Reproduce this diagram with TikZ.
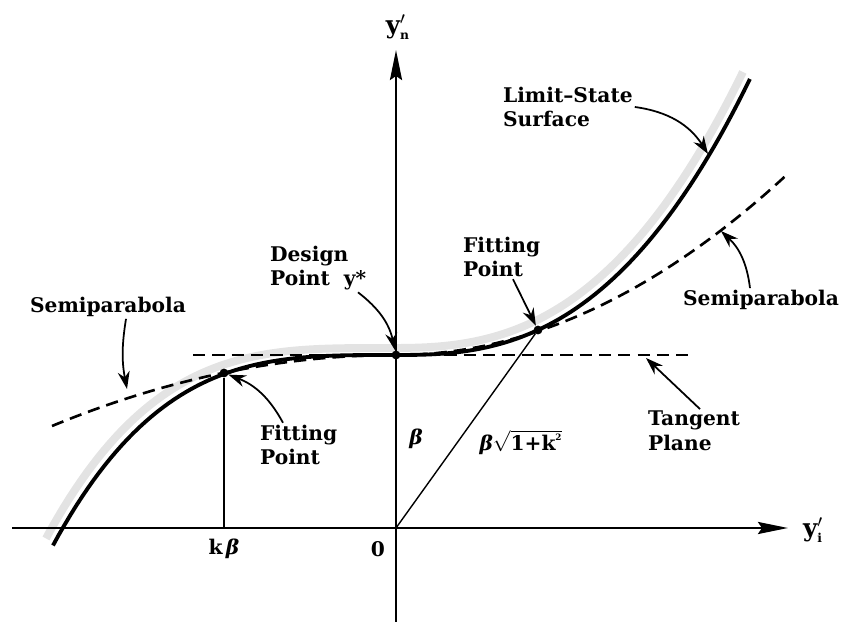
\documentclass[tikz,border=0pt]{standalone}
\usepackage{fontspec}
\setmainfont{DejaVu Serif}
\usetikzlibrary{arrows.meta}
\newcommand{\bbeta}{{\bfseries\itshape β}}
\tikzset{
  assi/.style={line width=1.5pt, -{Stealth[length=6mm,width=2.4mm,inset=0.8mm]}},
  superficie/.style={line width=2.2pt},
  fascia/.style={line width=4.5pt, gray!22},
  tratteggio/.style={line width=1.5pt, dash pattern=on 7pt off 4pt},
  sottile/.style={line width=0.8pt},
  freccia/.style={line width=1pt, -{Stealth[length=3.5mm,width=2.4mm]}},
  etichetta/.style={font=\fontsize{11.5}{14}\selectfont\bfseries, align=left, inner sep=1pt},
  punto/.style={circle, fill, inner sep=0pt, minimum size=5pt},
}
\begin{document}
\begin{tikzpicture}[x=0.02cm, y=-0.02cm]
        % --- macro riutilizzabili -----------------------------------------
        \def\unita{0.02cm}
        \useasboundingbox (0,0) rectangle (856,624);
        % --- punti notevoli -----------------------------------------------
        \coordinate (O) at (396,528);
        \coordinate (xinizio) at (12,528);
        \coordinate (xfine) at (788,528);
        \coordinate (yinizio) at (396,622);
        \coordinate (yfine) at (396,50);
        \coordinate (tpinizio) at (193,355);
        \coordinate (tpfine) at (690,355);
        \coordinate (kb) at (224,528);
        \coordinate (semisxpunta) at (127,389);
        \coordinate (semidxpunta) at (721,231);
        \coordinate (limitepunta) at (708,154);
        \coordinate (tppunta) at (646,358);
        % --- fascia grigia ------------------------------------------------
        \draw[fascia, shift={(-7,-7)}]
            plot[domain=-3.43:-0.02, samples=60] ({396+100*\x}, {355+19*pow(abs(\x)/1.72,3.34)})
            -- plot[domain=0.02:3.54, samples=60] ({396+100*\x}, {355-25*pow(\x/1.42,2.63)});
        % --- piano tangente e semiparabole --------------------------------
        \draw[tratteggio] (tpinizio) -- (tpfine);
        \draw[tratteggio] plot[domain=-3.44:0, samples=50] ({396+100*\x}, {355+6*\x*\x});
        \draw[tratteggio] plot[domain=0:3.92, samples=50] ({396+100*\x}, {355-11.8*\x*\x});
        % --- superficie di stato limite -----------------------------------
        \draw[superficie]
            plot[domain=-3.43:-0.02, samples=60] ({396+100*\x}, {355+19*pow(abs(\x)/1.72,3.34)})
            -- plot[domain=0.02:3.54, samples=60] ({396+100*\x}, {355-25*pow(\x/1.42,2.63)});
        % --- punti --------------------------------------------------------
        \node[punto] (progetto) at (396,355) {};
        \node[punto] (adattsx) at (224,373) {};
        \node[punto] (adattdx) at (538,330) {};
        \draw[sottile] (adattsx) -- (kb);
        \draw[sottile] (O) -- (adattdx);
        % --- assi ---------------------------------------------------------
        \draw[assi] (xinizio) -- (xfine);
        \draw[assi] (yinizio) -- (yfine);
        \node[etichetta, font=\fontsize{14}{16}\selectfont\bfseries] (yn) at (398,27) {y$^{\prime}_{\textbf{\scriptsize n}}$};
        \node[etichetta, font=\fontsize{14}{16}\selectfont\bfseries] (yi) at (813,530) {y$^{\prime}_{\textbf{\scriptsize i}}$};
        \node[etichetta] (zero) at (378,549) {0};
        \node[etichetta] (kbeta) at (224,549) {k\,\bbeta};
        \node[etichetta] (beta) at (416,439) {\bbeta};
        \node[etichetta] (radice) at (521,442) {\bbeta$\sqrt{\textbf{1+k}^{\textbf{\tiny 2}}}$};
        % --- etichette ----------------------------------------------------
        \node[etichetta] (semisx) at (108,307) {Semiparabola};
        \node[etichetta] (semidx) at (761,300) {Semiparabola};
        \node[etichetta, anchor=west] (progettolab) at (268,268) {Design\\Point\ \ y*};
        \node[etichetta, anchor=west] (adattsxlab) at (258,445) {Fitting\\Point};
        \node[etichetta, anchor=west] (adattdxlab) at (461,257) {Fitting\\Point};
        \node[etichetta, anchor=west] (limitelab) at (501,107) {Limit–State\\Surface};
        \node[etichetta, anchor=west] (tangentelab) at (646,431) {Tangent\\Plane};
        % --- frecce -------------------------------------------------------
        \draw[freccia] ([xshift=18*\unita]semisx.south) to[bend right=10] (semisxpunta);
        \draw[freccia] ([xshift=90*\unita]progettolab.south west) to[bend left=20] (progetto);
        \draw[freccia] ([xshift=25*\unita]adattsxlab.north west) to[bend right=20] (adattsx);
        \draw[freccia] ([xshift=52*\unita]adattdxlab.south west) -- (adattdx);
        \draw[freccia] (limitelab.east) to[bend left=25] (limitepunta);
        \draw[freccia] ([xshift=-11*\unita]semidx.north) to[bend right=20] (semidxpunta);
        \draw[freccia] ([xshift=54*\unita]tangentelab.north west) -- (tppunta);
\end{tikzpicture}
\end{document}
